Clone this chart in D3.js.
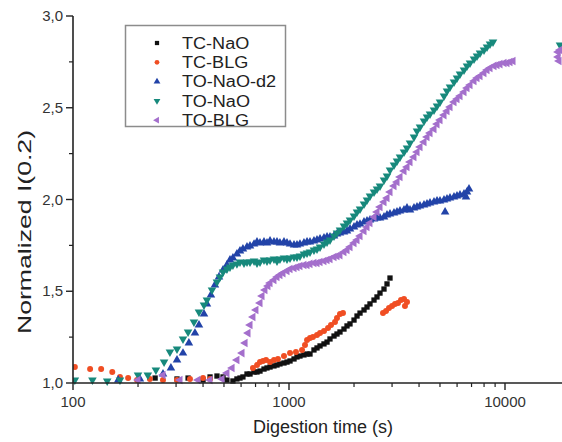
<!DOCTYPE html>
<html><head><meta charset="utf-8">
<script src="https://cdn.jsdelivr.net/npm/d3@7"></script>
<style>body{margin:0;background:#fff}svg{display:block}</style>
</head><body>
<svg id="c" width="562" height="442"></svg>
<script>
// ---- data (digestion time [s], normalized I(0.2)) ----
const seriesNames = ["TC-NaO","TC-BLG","TO-NaO-d2","TO-NaO","TO-BLG"];
const xTickValues = [100,1000,10000];
const yTickValues = [1.0,1.5,2.0,2.5,3.0];
const yMinorValues = [1.25,1.75,2.25,2.75];

const tcNaO = [[240,1.027],[303,1.022],[341,1.027],[400,1.016],[431,1.033],[464,1.038],[495,1.033],[516,1.016],[550,1.011],[574,1.022],[593,1.027],[612,1.033],[639,1.049],[660,1.049],[689,1.06],[711,1.06],[734,1.065],[766,1.076],[791,1.082],[817,1.087],[852,1.093],[880,1.098],[908,1.104],[948,1.109],[979,1.114],[1011,1.12],[1055,1.131],[1089,1.142],[1124,1.147],[1173,1.153],[1212,1.158],[1251,1.158],[1305,1.18],[1348,1.191],[1392,1.202],[1452,1.213],[1500,1.223],[1548,1.24],[1616,1.256],[1668,1.267],[1722,1.278],[1797,1.294],[1856,1.311],[1916,1.322],[2000,1.343],[2065,1.365],[2132,1.381],[2225,1.398],[2297,1.414],[2371,1.431],[2475,1.452],[2555,1.469],[2638,1.49],[2753,1.512],[2843,1.54],[2935,1.572]];

const tcBLG = [[102,1.087],[120,1.076],[135,1.076],[152,1.06],[165,1.033],[180,1.027],[198,1.016],[227,1.022],[261,1.016],[303,1.016],[348,1.022],[400,1.027],[431,1.022],[681,1.082],[711,1.098],[734,1.114],[758,1.12],[783,1.125],[817,1.114],[852,1.125],[889,1.131],[948,1.147],[1011,1.163],[1077,1.169],[1149,1.18],[1186,1.207],[1212,1.234],[1251,1.245],[1291,1.251],[1348,1.262],[1392,1.272],[1452,1.283],[1516,1.3],[1565,1.316],[1633,1.332],[1668,1.354],[1722,1.376],[1778,1.381],[2724,1.381],[2813,1.392],[2904,1.409],[3000,1.42],[3096,1.431],[3196,1.436],[3300,1.452],[3408,1.458],[3518,1.441],[3443,1.42]];

const toNaOd2 = [[162,1.016],[204,1.022],[261,1.049],[284,1.082],[303,1.125],[323,1.163],[344,1.218],[367,1.272],[383,1.316],[404,1.376],[417,1.431],[435,1.48],[454,1.534],[474,1.578],[495,1.616],[516,1.643],[533,1.67],[550,1.681],[574,1.703],[593,1.719],[612,1.73],[639,1.741],[660,1.747],[689,1.757],[711,1.768],[734,1.763],[766,1.768],[791,1.763],[817,1.774],[852,1.768],[880,1.768],[908,1.763],[948,1.768],[979,1.763],[1011,1.757],[1055,1.752],[1089,1.752],[1124,1.757],[1173,1.763],[1212,1.768],[1251,1.768],[1305,1.774],[1348,1.779],[1392,1.785],[1452,1.79],[1500,1.796],[1548,1.796],[1616,1.801],[1668,1.812],[1722,1.817],[1797,1.823],[1856,1.828],[1916,1.839],[2000,1.85],[2065,1.861],[2132,1.866],[2225,1.877],[2297,1.883],[2371,1.888],[2475,1.894],[2555,1.899],[2638,1.899],[2753,1.905],[2843,1.916],[2935,1.921],[3063,1.926],[3162,1.932],[3265,1.937],[3408,1.943],[3518,1.954],[3632,1.943],[3790,1.954],[3914,1.959],[4041,1.965],[4217,1.97],[4354,1.975],[4495,1.981],[4691,1.986],[4845,1.992],[5001,1.992],[5220,1.997],[5389,2.003],[5564,2.008],[5806,2.014],[5995,2.019],[6190,2.025],[6460,2.03],[6670,2.041],[6813,2.057],[5280,1.932],[6600,2.014]];

const toNaO = [[102,1.016],[123,1.016],[144,1.011],[165,1.016],[200,1.044],[222,1.044],[242,1.071],[264,1.114],[281,1.169],[303,1.185],[323,1.24],[341,1.278],[363,1.332],[383,1.387],[404,1.425],[417,1.452],[440,1.507],[464,1.55],[479,1.578],[495,1.605],[516,1.621],[533,1.632],[550,1.643],[574,1.649],[593,1.659],[619,1.654],[639,1.659],[660,1.659],[689,1.665],[711,1.654],[734,1.659],[766,1.67],[791,1.665],[817,1.67],[852,1.676],[880,1.665],[908,1.676],[948,1.681],[979,1.676],[1011,1.681],[1055,1.687],[1089,1.687],[1124,1.692],[1173,1.703],[1212,1.708],[1251,1.714],[1305,1.725],[1348,1.73],[1392,1.741],[1452,1.757],[1500,1.768],[1548,1.779],[1616,1.801],[1668,1.817],[1722,1.834],[1797,1.856],[1856,1.872],[1916,1.888],[2000,1.91],[2065,1.932],[2132,1.948],[2225,1.975],[2297,1.997],[2371,2.019],[2475,2.041],[2555,2.057],[2638,2.074],[2753,2.106],[2843,2.128],[2935,2.161],[3063,2.188],[3162,2.21],[3265,2.232],[3408,2.259],[3518,2.281],[3632,2.308],[3790,2.341],[3914,2.373],[4041,2.395],[4217,2.428],[4354,2.45],[4495,2.466],[4691,2.488],[4845,2.51],[5001,2.531],[5220,2.564],[5389,2.591],[5564,2.613],[5806,2.64],[5995,2.662],[6190,2.684],[6460,2.706],[6670,2.727],[6887,2.744],[7187,2.766],[7421,2.782],[7662,2.798],[7993,2.815],[8254,2.831],[8522,2.847],[8799,2.858],[17970,2.842]];

const toBLG = [[200,1.016],[261,1.044],[313,1.016],[379,1.016],[431,1.016],[490,1.022],[516,1.054],[545,1.082],[574,1.125],[606,1.163],[626,1.218],[646,1.272],[660,1.316],[681,1.36],[703,1.398],[734,1.436],[750,1.474],[774,1.507],[799,1.529],[817,1.545],[852,1.561],[880,1.578],[908,1.589],[938,1.599],[979,1.61],[1011,1.621],[1055,1.627],[1089,1.632],[1124,1.638],[1173,1.643],[1212,1.643],[1251,1.649],[1305,1.654],[1348,1.654],[1392,1.659],[1452,1.665],[1500,1.67],[1548,1.676],[1616,1.687],[1668,1.692],[1722,1.697],[1797,1.714],[1856,1.725],[1916,1.741],[2000,1.763],[2065,1.779],[2132,1.801],[2225,1.828],[2297,1.85],[2371,1.872],[2475,1.905],[2555,1.932],[2638,1.959],[2753,1.986],[2843,2.008],[2935,2.041],[3063,2.074],[3162,2.095],[3265,2.123],[3408,2.155],[3518,2.177],[3632,2.204],[3790,2.232],[3914,2.259],[4041,2.286],[4217,2.313],[4354,2.341],[4495,2.362],[4691,2.384],[4845,2.411],[5001,2.433],[5220,2.46],[5389,2.482],[5564,2.504],[5806,2.531],[5995,2.548],[6190,2.564],[6460,2.586],[6670,2.608],[6887,2.624],[7187,2.646],[7421,2.662],[7662,2.673],[7993,2.689],[8254,2.706],[8522,2.717],[8895,2.728],[9183,2.733],[9482,2.738],[9895,2.744],[10216,2.744],[10547,2.749],[10890,2.755],[17600,2.804],[17600,2.777],[17783,2.755],[17970,2.815]];

const seriesData = [tcNaO, tcBLG, toNaOd2, toNaO, toBLG];
const seriesColors = ["#111111","#f04e23","#2243a8","#17897c","#a46fcc"];
const seriesShapes = ["square","circle","triUp","triDown","triLeft"];

// ---- layout ----
const svg = d3.select("#c");
const x0 = 73, y0 = 383, yTop = 16;
const x = d3.scaleLog().domain([100, 100000]).range([x0, x0 + 3*216]);
const y = d3.scaleLinear().domain([1, 3]).range([y0, yTop]);
const font = "'Liberation Sans', Arial, sans-serif";
const axisColor = "#222";

function symbolPath(shape, big){
  if (shape === "square") return d3.symbol(d3.symbolSquare, big ? 28 : 18)();
  if (shape === "circle") return d3.symbol(d3.symbolCircle, big ? 28 : 18)();
  return d3.symbol(d3.symbolTriangle, big ? 32 : 20)();
}
function rot(shape){ return shape === "triDown" ? 180 : shape === "triLeft" ? -90 : 0; }

svg.append("clipPath").attr("id","pc").append("rect")
  .attr("x", x0).attr("y", 0).attr("width", 562 - x0).attr("height", y0 + 3);

const plot = svg.append("g").attr("clip-path","url(#pc)");
seriesData.forEach((data, i) => {
  plot.append("g").selectAll("path").data(data).enter().append("path")
    .attr("d", symbolPath(seriesShapes[i], true))
    .attr("fill", seriesColors[i])
    .attr("transform", d => `translate(${x(d[0])},${y(d[1])}) rotate(${rot(seriesShapes[i])})`);
});

// ---- axes ----
const xMinor = [];
[100,1000,10000].forEach(dec => { for (let k = 2; k <= 9; k++) { const v = dec*k; if (x(v) <= 562) xMinor.push(v); } });

const xAxis = svg.append("g").attr("transform", `translate(0,${y0})`);
xAxis.append("line").attr("x1", x0).attr("x2", 562).attr("y1", 0).attr("y2", 0)
  .attr("stroke", axisColor).attr("stroke-width", 1.6);
xAxis.selectAll(".mj").data(xTickValues).enter().append("line")
  .attr("x1", d => x(d)).attr("x2", d => x(d)).attr("y1", 0).attr("y2", 7)
  .attr("stroke", axisColor).attr("stroke-width", 1.4);
xAxis.selectAll(".mn").data(xMinor).enter().append("line")
  .attr("x1", d => x(d)).attr("x2", d => x(d)).attr("y1", 0).attr("y2", 4)
  .attr("stroke", axisColor).attr("stroke-width", 1.2);
xAxis.selectAll("text").data(xTickValues).enter().append("text")
  .attr("x", d => x(d)).attr("y", 24).attr("text-anchor","middle")
  .attr("font-family", font).attr("font-size", 15).attr("fill", "#333")
  .text(d => d3.format("d")(d));

const yAxis = svg.append("g").attr("transform", `translate(${x0},0)`);
yAxis.append("line").attr("x1", 0).attr("x2", 0).attr("y1", yTop).attr("y2", y0)
  .attr("stroke", axisColor).attr("stroke-width", 1.6);
yAxis.selectAll(".mj").data(yTickValues).enter().append("line")
  .attr("x1", -7).attr("x2", 0).attr("y1", d => y(d)).attr("y2", d => y(d))
  .attr("stroke", axisColor).attr("stroke-width", 1.4);
yAxis.selectAll(".mn").data(yMinorValues).enter().append("line")
  .attr("x1", -4).attr("x2", 0).attr("y1", d => y(d)).attr("y2", d => y(d))
  .attr("stroke", axisColor).attr("stroke-width", 1.2);
yAxis.selectAll("text").data(yTickValues).enter().append("text")
  .attr("x", -10).attr("y", d => y(d) + 5).attr("text-anchor","end")
  .attr("font-family", font).attr("font-size", 15).attr("fill", "#333")
  .text(d => d3.format(".1f")(d).replace(".", ","));

svg.append("text").attr("x", 323).attr("y", 433).attr("text-anchor","middle")
  .attr("font-family", font).attr("font-size", 18).attr("fill", "#222")
  .text("Digestion time (s)");
svg.append("text").attr("transform", "translate(31,232) rotate(-90)").attr("text-anchor","middle")
  .attr("font-family", font).attr("font-size", 18).attr("fill", "#222")
  .attr("textLength", 204).attr("lengthAdjust", "spacingAndGlyphs")
  .text("Normalized I(0.2)");

// ---- legend ----
const lg = svg.append("g");
lg.append("rect").attr("x", 125.5).attr("y", 25.5).attr("width", 160).attr("height", 101)
  .attr("fill", "#fff").attr("stroke", "#8c8c8c").attr("stroke-width", 1.5);
seriesNames.forEach((name, i) => {
  const cy = 43 + i*19.3;
  lg.append("path").attr("d", symbolPath(seriesShapes[i], false))
    .attr("fill", seriesColors[i])
    .attr("transform", `translate(157,${cy}) rotate(${rot(seriesShapes[i])})`);
  lg.append("text").attr("transform", `translate(182,${cy + 5.8}) scale(1.13,1)`)
    .attr("font-family", font).attr("font-size", 16).attr("fill", "#222").text(name);
});
</script>
</body></html>
